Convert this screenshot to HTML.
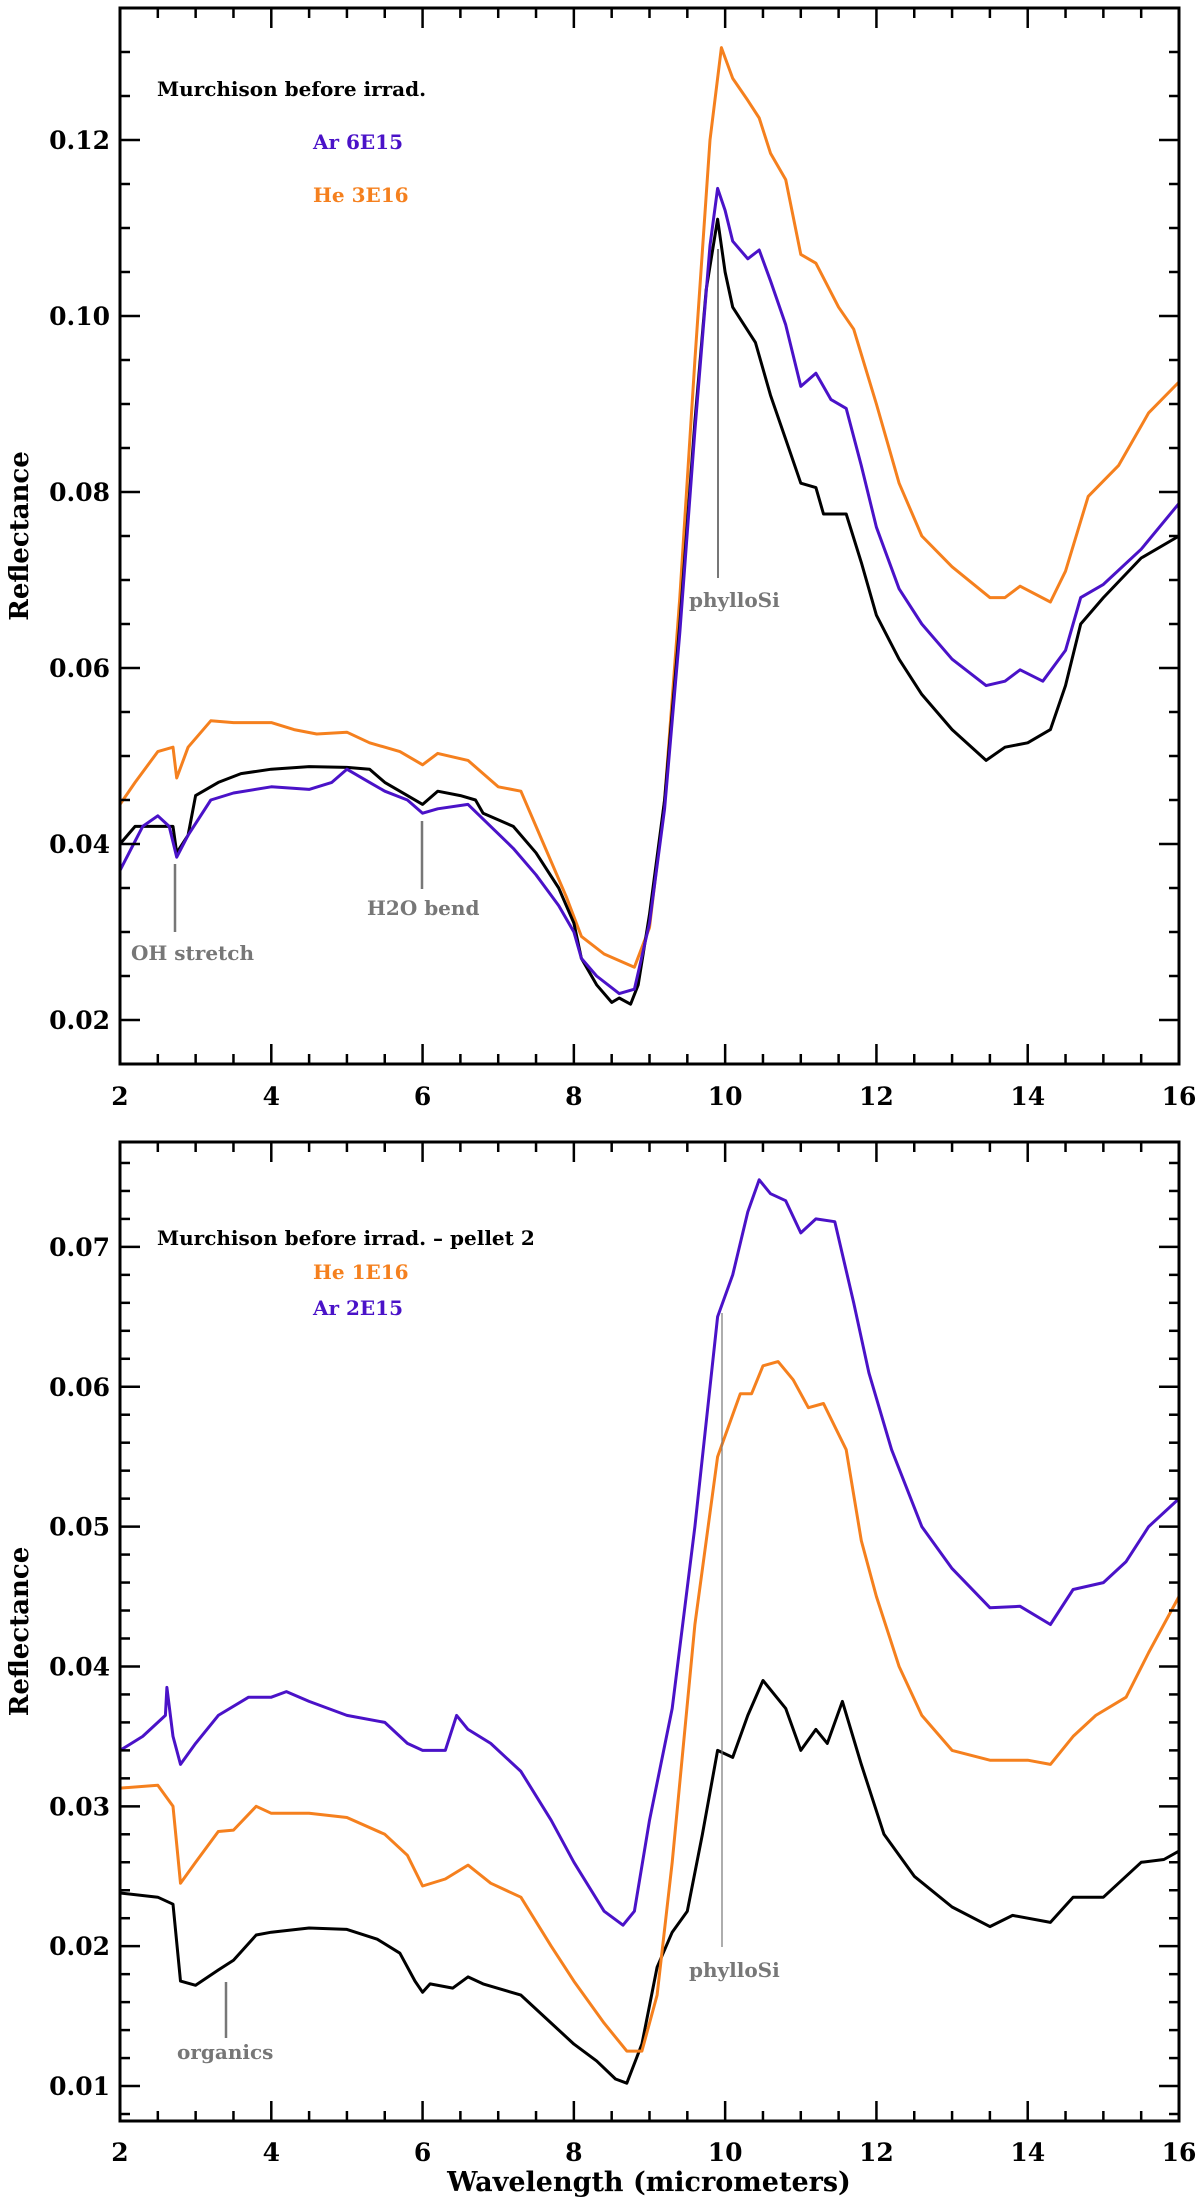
<!DOCTYPE html>
<html><head><meta charset="utf-8"><style>
html,body{margin:0;padding:0;background:#fff}
svg{display:block}
text{font-family:"DejaVu Serif","Liberation Serif",serif;font-weight:bold}
</style></head><body>
<svg id="fig" width="1200" height="2204" viewBox="0 0 1200 2204" xmlns="http://www.w3.org/2000/svg">
<g id="p1"></g>
<g id="p2"></g>
<text x="649" y="2191" font-size="27" text-anchor="middle">Wavelength (micrometers)</text>
</svg>
<script>
// ---- Top panel data ----
const topBlackX=[2,2.2,2.5,2.7,2.75,2.9,3.0,3.3,3.6,4,4.5,5,5.3,5.5,5.8,6.0,6.2,6.5,6.7,6.8,7.2,7.5,7.8,8.0,8.1,8.3,8.5,8.6,8.75,8.85,9.0,9.2,9.4,9.6,9.75,9.9,10.0,10.1,10.4,10.6,10.8,11.0,11.2,11.3,11.6,11.8,12.0,12.3,12.6,13.0,13.45,13.7,14.0,14.3,14.5,14.7,15.0,15.5,16.0];
const topBlackY=[0.040,0.042,0.042,0.042,0.039,0.041,0.0455,0.047,0.048,0.0485,0.0488,0.0487,0.0485,0.047,0.0455,0.0445,0.046,0.0455,0.045,0.0435,0.042,0.039,0.035,0.031,0.027,0.024,0.022,0.0225,0.0218,0.024,0.032,0.045,0.065,0.088,0.103,0.111,0.105,0.101,0.097,0.091,0.086,0.081,0.0805,0.0775,0.0775,0.072,0.066,0.061,0.057,0.053,0.0495,0.051,0.0515,0.053,0.058,0.065,0.068,0.0725,0.075];
const topArX=[2,2.3,2.5,2.65,2.75,2.9,3.2,3.5,4,4.5,4.8,5.0,5.3,5.5,5.8,6.0,6.2,6.6,6.9,7.2,7.5,7.8,8.0,8.1,8.3,8.6,8.8,9.0,9.2,9.4,9.6,9.8,9.9,10.0,10.1,10.3,10.45,10.6,10.8,11.0,11.2,11.4,11.6,11.8,12.0,12.3,12.6,13.0,13.45,13.7,13.9,14.2,14.5,14.7,15.0,15.5,16];
const topArY=[0.037,0.042,0.0432,0.042,0.0385,0.041,0.045,0.0458,0.0465,0.0462,0.047,0.0485,0.047,0.046,0.045,0.0435,0.044,0.0445,0.042,0.0395,0.0365,0.033,0.030,0.027,0.025,0.023,0.0235,0.031,0.044,0.064,0.087,0.108,0.1145,0.112,0.1085,0.1065,0.1075,0.104,0.099,0.092,0.0935,0.0905,0.0895,0.083,0.076,0.069,0.065,0.061,0.058,0.0585,0.0598,0.0585,0.062,0.068,0.0695,0.0735,0.0787];
const topHeX=[2,2.2,2.5,2.7,2.75,2.9,3.2,3.5,4,4.3,4.6,5.0,5.3,5.7,6.0,6.2,6.6,7.0,7.3,7.6,7.9,8.1,8.4,8.8,9.0,9.2,9.4,9.6,9.8,9.95,10.1,10.3,10.45,10.6,10.8,11.0,11.2,11.5,11.7,12.0,12.3,12.6,13.0,13.5,13.7,13.9,14.3,14.5,14.8,15.2,15.6,16];
const topHeY=[0.0445,0.047,0.0505,0.051,0.0475,0.051,0.054,0.0538,0.0538,0.053,0.0525,0.0527,0.0515,0.0505,0.049,0.0503,0.0495,0.0465,0.046,0.040,0.034,0.0295,0.0275,0.026,0.0305,0.045,0.068,0.095,0.12,0.1305,0.127,0.1245,0.1225,0.1185,0.1155,0.107,0.106,0.101,0.0985,0.090,0.081,0.075,0.0715,0.068,0.068,0.0693,0.0675,0.071,0.0795,0.083,0.089,0.0925];
// ---- Bottom panel data ----
const botBlackX=[2,2.5,2.7,2.8,3.0,3.3,3.5,3.8,4.0,4.5,5.0,5.4,5.7,5.9,6.0,6.1,6.4,6.6,6.8,7.3,7.7,8.0,8.3,8.55,8.7,8.9,9.1,9.3,9.5,9.7,9.9,10.1,10.3,10.5,10.8,11.0,11.2,11.35,11.55,11.8,12.1,12.5,13.0,13.5,13.8,14.3,14.6,15.0,15.5,15.8,16];
const botBlackY=[0.0238,0.0235,0.023,0.0175,0.0172,0.0183,0.019,0.0208,0.021,0.0213,0.0212,0.0205,0.0195,0.0175,0.0167,0.0173,0.0170,0.0178,0.0173,0.0165,0.0145,0.013,0.0118,0.0105,0.0102,0.013,0.0185,0.021,0.0225,0.028,0.034,0.0335,0.0365,0.039,0.037,0.034,0.0355,0.0345,0.0375,0.033,0.028,0.025,0.0228,0.0214,0.0222,0.0217,0.0235,0.0235,0.026,0.0262,0.0268];
const botHeX=[2,2.5,2.7,2.8,3.0,3.3,3.5,3.8,4.0,4.5,5.0,5.5,5.8,6.0,6.3,6.6,6.9,7.3,7.7,8.0,8.4,8.7,8.9,9.1,9.3,9.6,9.9,10.1,10.2,10.35,10.5,10.7,10.9,11.1,11.3,11.6,11.8,12.0,12.3,12.6,13.0,13.5,14.0,14.3,14.6,14.9,15.3,15.6,16];
const botHeY=[0.0313,0.0315,0.030,0.0245,0.026,0.0282,0.0283,0.030,0.0295,0.0295,0.0292,0.028,0.0265,0.0243,0.0248,0.0258,0.0245,0.0235,0.020,0.0175,0.0145,0.0125,0.0125,0.0165,0.026,0.043,0.055,0.058,0.0595,0.0595,0.0615,0.0618,0.0605,0.0585,0.0588,0.0555,0.049,0.045,0.040,0.0365,0.034,0.0333,0.0333,0.033,0.035,0.0365,0.0378,0.041,0.045];
const botArX=[2,2.3,2.6,2.62,2.7,2.8,3.0,3.3,3.7,4.0,4.2,4.5,5.0,5.5,5.8,6.0,6.3,6.45,6.6,6.9,7.3,7.7,8.0,8.4,8.65,8.8,9.0,9.3,9.6,9.9,10.1,10.3,10.45,10.6,10.8,11.0,11.2,11.45,11.7,11.9,12.2,12.6,13.0,13.5,13.9,14.3,14.6,15.0,15.3,15.6,16];
const botArY=[0.034,0.035,0.0365,0.0385,0.035,0.033,0.0345,0.0365,0.0378,0.0378,0.0382,0.0375,0.0365,0.036,0.0345,0.034,0.034,0.0365,0.0355,0.0345,0.0325,0.029,0.026,0.0225,0.0215,0.0225,0.029,0.037,0.05,0.065,0.068,0.0725,0.0748,0.0738,0.0733,0.071,0.072,0.0718,0.066,0.061,0.0555,0.050,0.047,0.0442,0.0443,0.043,0.0455,0.046,0.0475,0.050,0.052];
const xTickLabels=["2","4","6","8","10","12","14","16"];
const topYTickLabels=["0.02","0.04","0.06","0.08","0.10","0.12"];
const botYTickLabels=["0.01","0.02","0.03","0.04","0.05","0.06","0.07"];

const NS="http://www.w3.org/2000/svg";
const BLACK="#000",AR="#4a12c8",HE="#f5801e",GRAY="#777";
function mk(parent,tag,attrs){const e=document.createElementNS(NS,tag);for(const k in attrs)e.setAttribute(k,attrs[k]);parent.appendChild(e);return e;}

function panel(g,cfg){
  const L=120,R=1179,T=cfg.top,B=cfg.bottom;
  const sx=x=>L+(x-2)/14*(R-L);
  const sy=y=>B-(y-cfg.ymin)/(cfg.ymax-cfg.ymin)*(B-T);
  cfg.series.forEach(s=>{
    let d="";s.x.forEach((xv,i)=>{d+=(i?"L":"M")+sx(xv).toFixed(1)+","+sy(s.y[i]).toFixed(1);});
    const p=mk(g,"path",{d:d,fill:"none",stroke:s.color,"stroke-width":3,"stroke-linejoin":"round"});
    
    
  });
  const f=mk(g,"rect",{x:L,y:T,width:R-L,height:B-T,fill:"none",stroke:"#000","stroke-width":3});
  
  
  for(let x=2;x<=16.001;x+=0.5){
    const major=Math.abs(x-Math.round(x/2)*2)<1e-6;const len=major?20:10;
    const px=sx(x);
    mk(g,"line",{x1:px,y1:B,x2:px,y2:B-len,stroke:"#000","stroke-width":2.5});
    mk(g,"line",{x1:px,y1:T,x2:px,y2:T+len,stroke:"#000","stroke-width":2.5});
  }
  xTickLabels.forEach((lab,i)=>{
    const t=mk(g,"text",{x:sx(Number(lab)),y:cfg.xlabY,"font-size":25,"text-anchor":"middle"});t.textContent=lab;
    
    
  });
  const start=Math.ceil(cfg.ymin/cfg.minor-1e-6)*cfg.minor;
  for(let y=start;y<=cfg.ymax+1e-9;y+=cfg.minor){
    const major=Math.abs(y/cfg.major-Math.round(y/cfg.major))<1e-6;const len=major?20:10;const py=sy(y);
    mk(g,"line",{x1:L,y1:py,x2:L+len,y2:py,stroke:"#000","stroke-width":2.5});
    mk(g,"line",{x1:R,y1:py,x2:R-len,y2:py,stroke:"#000","stroke-width":2.5});
  }
  cfg.ylabels.forEach(lab=>{
    const t=mk(g,"text",{x:110,y:sy(Number(lab))+9,"font-size":25,"text-anchor":"end"});t.textContent=lab;
    
    
  });
  const yt=mk(g,"text",{x:0,y:0,"font-size":26,"text-anchor":"middle",transform:`translate(28,${(T+B)/2}) rotate(-90)`});yt.textContent="Reflectance";
  
  
  cfg.legend.forEach(l=>{
    const t=mk(g,"text",{x:l.x,y:l.y,"font-size":20,fill:l.color});t.textContent=l.text;
    
    
  });
  cfg.notes.forEach(a=>{
    mk(g,"line",{x1:a.lx,y1:a.y1,x2:a.lx,y2:a.y2,stroke:GRAY,"stroke-width":a.w});
    const t=mk(g,"text",{x:a.tx,y:a.ty,"font-size":20,fill:GRAY});t.textContent=a.text;
    
    
  });
}

panel(document.getElementById("p1"),{top:8,bottom:1064,ymin:0.015,ymax:0.135,minor:0.005,major:0.02,xlabY:1105,ylabels:topYTickLabels,
  series:[{x:topHeX,y:topHeY,color:HE,name:"he-3e16-line"},{x:topBlackX,y:topBlackY,color:BLACK,name:"before-irrad-line"},{x:topArX,y:topArY,color:AR,name:"ar-6e15-line"}],
  legend:[{x:157,y:96,text:"Murchison before irrad.",color:"#000"},{x:313,y:149,text:"Ar 6E15",color:AR},{x:313,y:202,text:"He 3E16",color:HE}],
  notes:[{lx:175,y1:864,y2:932,tx:131,ty:960,text:"OH stretch",w:2.5},{lx:422,y1:821,y2:889,tx:367,ty:915,text:"H2O bend",w:2.5},{lx:718,y1:249,y2:578,tx:689,ty:607,text:"phylloSi",w:2}]});

panel(document.getElementById("p2"),{top:1142,bottom:2121,ymin:0.0075,ymax:0.0775,minor:0.002,major:0.01,xlabY:2161,ylabels:botYTickLabels,
  series:[{x:botBlackX,y:botBlackY,color:BLACK,name:"before-irrad-pellet2-line"},{x:botHeX,y:botHeY,color:HE,name:"he-1e16-line"},{x:botArX,y:botArY,color:AR,name:"ar-2e15-line"}],
  legend:[{x:157,y:1245,text:"Murchison before irrad. – pellet 2",color:"#000"},{x:313,y:1279,text:"He 1E16",color:HE},{x:313,y:1315,text:"Ar 2E15",color:AR}],
  notes:[{lx:722,y1:1313,y2:1947,tx:689,ty:1977,text:"phylloSi",w:1.2},{lx:226,y1:1982,y2:2038,tx:177,ty:2059,text:"organics",w:2.5}]});
</script>
</body></html>
